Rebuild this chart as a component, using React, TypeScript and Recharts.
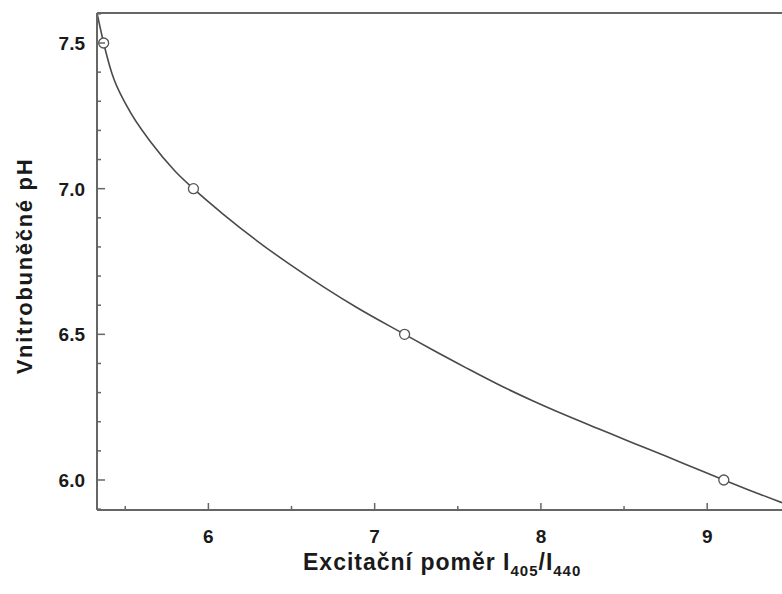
import React from 'react';
import {
  ComposedChart,
  Line,
  Scatter,
  XAxis,
  YAxis,
  ReferenceLine,
  Label,
} from 'recharts';

// measured points (excitation ratio vs intracellular pH)
const pointRatio = [5.37, 5.91, 7.18, 9.1];
const pointPH = [7.5, 7.0, 6.5, 6.0];

// calibration curve
const curveRatio = [5.33, 5.37, 5.42, 5.51, 5.66, 5.8, 5.91, 6.09, 6.29, 6.49, 6.69, 6.89, 7.18, 7.35, 7.55, 7.75, 7.95, 8.15, 8.35, 8.55, 8.75, 8.95, 9.1, 9.25, 9.45];
const curvePH = [7.603, 7.5, 7.395, 7.283, 7.155, 7.06, 7.0, 6.912, 6.822, 6.74, 6.664, 6.593, 6.5, 6.446, 6.385, 6.326, 6.272, 6.222, 6.175, 6.128, 6.082, 6.035, 6.0, 5.966, 5.922];

const xTicks = [5.5, 6, 6.5, 7, 7.5, 8, 8.5, 9];
const xLabels = [6, 7, 8, 9];
const yTicks = [5.9, 6.0, 6.1, 6.2, 6.3, 6.4, 6.5, 6.6, 6.7, 6.8, 6.9, 7.0, 7.1, 7.2, 7.3, 7.4, 7.5, 7.6];
const yLabels = ['6.0', '6.5', '7.0', '7.5'];

const xDomain = [5.33, 9.45];
const yDomain = [5.897, 7.603];

const curveData = curveRatio.map((ratio, i) => ({ ratio, ph: curvePH[i] }));
const pointData = pointRatio.map((ratio, i) => ({ ratio, ph: pointPH[i] }));

const AXIS = '#666';
const INK = '#1a1a1a';
const FONT = '"Liberation Sans", Arial, Helvetica, sans-serif';

const XTick = (props: any) => {
  const { x, y, payload } = props;
  const v = payload.value;
  const major = xLabels.includes(v);
  return (
    <g>
      <line x1={x} x2={x} y1={y} y2={y - (major ? 7 : 4)} stroke={AXIS} strokeWidth={1.5} />
      {major && (
        <text x={x} y={y + 33} textAnchor="middle" fontFamily={FONT} fontWeight="bold" fontSize={19} fill={INK}>
          {v}
        </text>
      )}
    </g>
  );
};

const YTick = (props: any) => {
  const { x, y, payload } = props;
  const label = payload.value.toFixed(1);
  const major = yLabels.includes(label);
  return (
    <g>
      <line x1={x} x2={x + (major ? 8 : 4)} y1={y} y2={y} stroke={AXIS} strokeWidth={1.5} />
      {major && (
        <text x={x - 12} y={y + 7} textAnchor="end" fontFamily={FONT} fontWeight="bold" fontSize={19} fill={INK}>
          {label}
        </text>
      )}
    </g>
  );
};

const Dot = (props: any) => {
  const { cx, cy } = props;
  return <circle cx={cx} cy={cy} r={5} fill="#fff" stroke="#555" strokeWidth={1.3} />;
};

const XTitle = () => (
  <text x={303} y={570} fontFamily={FONT} fontWeight="bold" fontSize={23} fill={INK} letterSpacing={1}>
    Excitační poměr I
    <tspan fontSize={15} dy={6}>405</tspan>
    <tspan dy={-6}>/I</tspan>
    <tspan fontSize={15} dy={6}>440</tspan>
  </text>
);

const YTitle = () => (
  <text
    x={32}
    y={266}
    transform="rotate(-90 32 266)"
    textAnchor="middle"
    fontFamily={FONT}
    fontWeight="bold"
    fontSize={22}
    fill={INK}
    letterSpacing={1.7}
  >
    Vnitrobuněčné pH
  </text>
);

export default function App() {
  return (
    <div style={{ position: 'absolute', left: 0, top: 0, background: '#fff' }}>
      <ComposedChart width={782} height={594} margin={{ top: 13, right: 0, bottom: 0, left: 0 }}>
        <XAxis
          dataKey="ratio"
          type="number"
          domain={xDomain}
          ticks={xTicks}
          interval={0}
          allowDataOverflow
          height={84}
          tickSize={0}
          tickMargin={0}
          tickLine={false}
          axisLine={{ stroke: AXIS, strokeWidth: 2 }}
          tick={<XTick />}
        >
          <Label content={<XTitle />} />
        </XAxis>
        <YAxis
          dataKey="ph"
          type="number"
          domain={yDomain}
          ticks={yTicks}
          interval={0}
          allowDataOverflow
          width={97}
          tickSize={0}
          tickMargin={0}
          tickLine={false}
          axisLine={{ stroke: AXIS, strokeWidth: 2 }}
          tick={<YTick />}
        >
          <Label content={<YTitle />} />
        </YAxis>
        <ReferenceLine y={yDomain[1]} stroke={AXIS} strokeWidth={2} />
        <Line
          data={curveData}
          dataKey="ph"
          type="monotone"
          stroke="#4a4a4a"
          strokeWidth={1.6}
          dot={false}
          activeDot={false}
          isAnimationActive={false}
        />
        <Scatter data={pointData} dataKey="ph" shape={<Dot />} isAnimationActive={false} />
      </ComposedChart>
    </div>
  );
}
